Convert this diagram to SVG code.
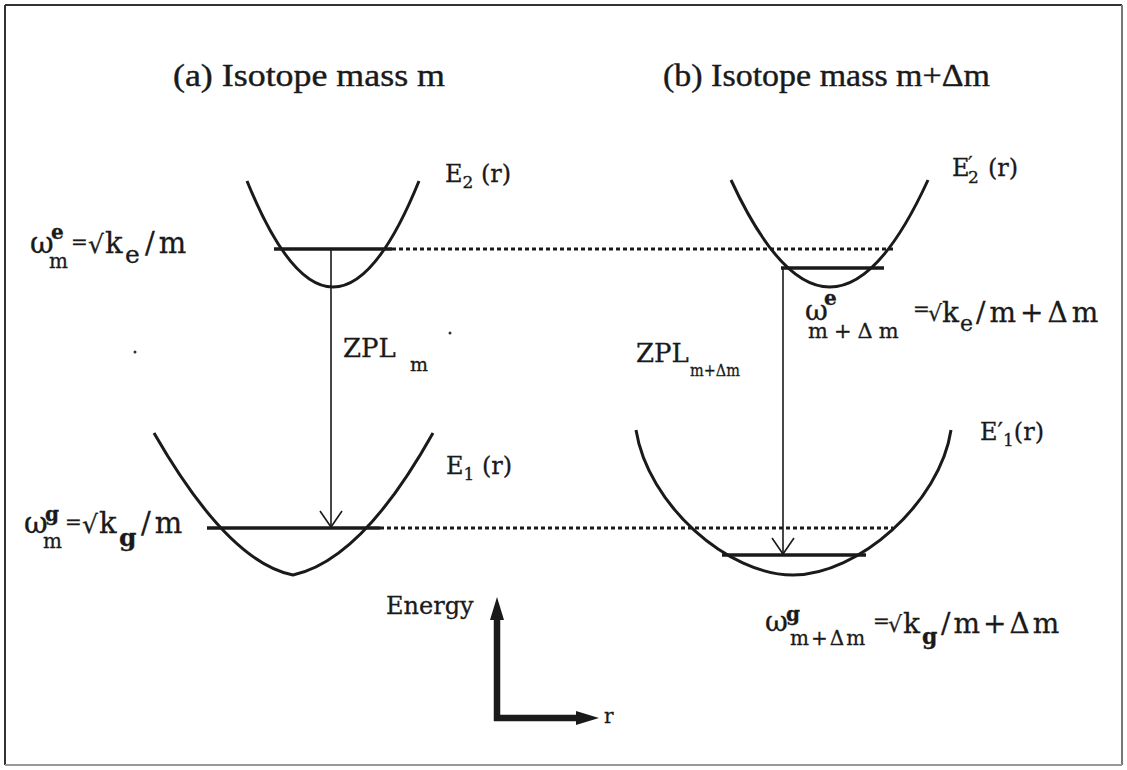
<svg xmlns="http://www.w3.org/2000/svg" width="1127" height="770" viewBox="0 0 1127 770">
<defs>
<style>
.t{font-family:"Liberation Serif","DejaVu Serif",serif;fill:#1a1a1a;stroke:#1a1a1a;stroke-width:0.4}
.f{font-family:"DejaVu Serif","Liberation Serif",serif;fill:#1a1a1a;stroke:#1a1a1a;stroke-width:0.3}
.b{font-weight:bold}
.curve{fill:none;stroke:#1a1a1a;stroke-width:3}
.lvl{stroke:#1a1a1a;stroke-width:3.5}
.dot{stroke:#1a1a1a;stroke-width:3;stroke-dasharray:4 3}
.zpl{stroke:#1a1a1a;stroke-width:1.6;fill:none}
</style>
</defs>
<rect width="1127" height="770" fill="#fff"/>
<g id="frame" stroke="#333" stroke-width="2" fill="none">
<line x1="5" y1="5" x2="1122" y2="5"/>
<line x1="5" y1="5" x2="5" y2="765"/>
<line x1="1122" y1="5" x2="1122" y2="765" stroke="#777"/>
<line x1="5" y1="765" x2="1122" y2="765" stroke="#999"/>
</g>
<g id="titles">
<text class="t" x="173" y="86" font-size="31" textLength="272" lengthAdjust="spacingAndGlyphs">(a) Isotope mass m</text>
<text class="t" x="663" y="86" font-size="31" textLength="327" lengthAdjust="spacingAndGlyphs">(b) Isotope mass m+Δm</text>
</g>
<g id="E2">
<path class="curve" d="M247,181 Q333,393 419,181"/>
<line class="lvl" x1="274" y1="249" x2="392" y2="249"/>
<text class="f" x="445" y="182" font-size="24">E<tspan font-size="17" dy="6">2</tspan><tspan dy="-6"> (r)</tspan></text>
</g>
<g id="E2p">
<path class="curve" d="M731,180 Q830,394 928,180"/>
<line class="lvl" x1="781" y1="268" x2="884" y2="268"/>
<text class="f" font-size="24"><tspan x="952" y="176">E</tspan><tspan x="968" y="171" font-size="20">′</tspan><tspan x="968" y="183" font-size="17">2</tspan><tspan x="988" y="176">(r)</tspan></text>
</g>
<g id="E1">
<path class="curve" d="M154,433 Q228,562 293,575 Q362,560 433,433"/>
<line class="lvl" x1="207" y1="528" x2="380" y2="528"/>
<text class="f" x="446" y="474" font-size="24">E<tspan font-size="17" dy="6">1</tspan><tspan dy="-6"> (r)</tspan></text>
</g>
<g id="E1p">
<path class="curve" d="M636,430 C648,505 728,575 793,575 C858,575 940,503 951,430"/>
<line class="lvl" x1="722" y1="555" x2="866" y2="555"/>
<text class="f" x="980" y="440" font-size="24">E′<tspan font-size="17" dy="6">1</tspan><tspan dy="-6">(r)</tspan></text>
</g>
<g id="label-we-m">
<text class="f" font-size="29"><tspan x="30" y="253">ω</tspan><tspan x="51" y="239" font-size="20" class="b">e</tspan><tspan x="49" y="268" font-size="20">m</tspan><tspan x="71" y="249" font-size="20">=</tspan><tspan x="88" y="253" font-size="25">√</tspan><tspan x="105" y="253">k</tspan><tspan x="125" y="263" font-size="25">e</tspan><tspan x="145" y="253" letter-spacing="4">/m</tspan></text>
</g>
<g id="label-wg-m">
<text class="f" font-size="29"><tspan x="24" y="533">ω</tspan><tspan x="45" y="521" font-size="20" class="b">g</tspan><tspan x="43" y="548" font-size="20">m</tspan><tspan x="65" y="529" font-size="20">=</tspan><tspan x="82" y="533" font-size="25">√</tspan><tspan x="99" y="533">k</tspan><tspan x="119" y="546" font-size="25" class="b">g</tspan><tspan x="141" y="533" letter-spacing="4">/m</tspan></text>
</g>
<g id="label-zpl-m">
<text class="f" font-size="26"><tspan x="343" y="357">ZPL</tspan><tspan x="410" y="371" font-size="19">m</tspan></text>
</g>
<g id="label-zpl-mdm">
<text class="f" font-size="26"><tspan x="636" y="362">ZPL</tspan><tspan x="690" y="376" font-size="17" textLength="50" lengthAdjust="spacingAndGlyphs">m+Δm</tspan></text>
</g>
<g id="label-we-mdm">
<text class="f" font-size="28"><tspan x="805" y="320">ω</tspan><tspan x="824" y="305" font-size="20" class="b">e</tspan><tspan x="808" y="338" font-size="21" letter-spacing="6">m+Δm</tspan><tspan x="913" y="316" font-size="20">=</tspan><tspan x="928" y="321" font-size="22">√</tspan><tspan x="942" y="322">k</tspan><tspan x="960" y="331" font-size="22">e</tspan><tspan x="976" y="322" letter-spacing="4">/m+Δm</tspan></text>
</g>
<g id="label-wg-mdm">
<text class="f" font-size="28"><tspan x="765" y="631">ω</tspan><tspan x="786" y="621" font-size="20" class="b">g</tspan><tspan x="790" y="645" font-size="20" letter-spacing="2">m+Δm</tspan><tspan x="873" y="628" font-size="20">=</tspan><tspan x="888" y="632" font-size="22">√</tspan><tspan x="903" y="633">k</tspan><tspan x="922" y="644" font-size="22" class="b">g</tspan><tspan x="941" y="633" letter-spacing="3">/m+Δm</tspan></text>
</g>
<g id="connectors">
<line class="dot" x1="392" y1="249" x2="893" y2="249"/>
<line class="dot" x1="380" y1="528" x2="893" y2="528"/>
<line class="zpl" x1="331" y1="249" x2="331" y2="527"/>
<polyline class="zpl" points="320,511 331,527 342,511"/>
<line class="zpl" x1="783" y1="268" x2="783" y2="554"/>
<polyline class="zpl" points="772,538 783,554 794,538"/>
</g>
<g id="axes">
<line x1="497" y1="721" x2="497" y2="618" stroke="#1a1a1a" stroke-width="6.5"/>
<polygon points="497,597 490,620 504,620" fill="#1a1a1a"/>
<line x1="494" y1="718" x2="578" y2="718" stroke="#1a1a1a" stroke-width="6.5"/>
<polygon points="599,718 576,711 576,725" fill="#1a1a1a"/>
<text class="f" x="386" y="614" font-size="24">Energy</text>
<text class="f" x="604" y="723" font-size="20">r</text>
</g>
<g id="specks" fill="#333">
<circle cx="135" cy="352" r="1.5"/>
<circle cx="450" cy="333" r="1.5"/>
</g>
</svg>
